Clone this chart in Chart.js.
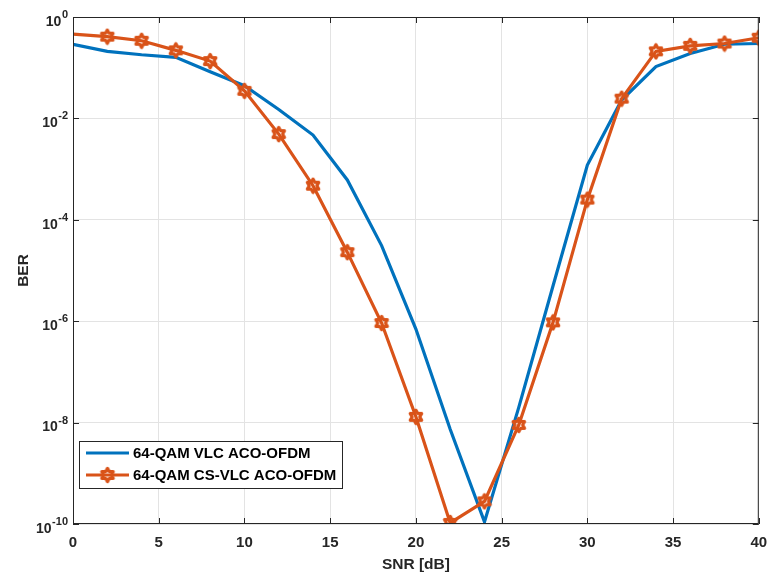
<!DOCTYPE html>
<html>
<head>
<meta charset="utf-8">
<script src="https://cdn.jsdelivr.net/npm/chart.js@4"></script>
<style>
  html, body { margin: 0; padding: 0; background: #fff; }
  #wrap { width: 769px; height: 574px; }
</style>
</head>
<body>
<div id="wrap"><canvas id="berChart" width="769" height="574"></canvas></div>
<script>
// SNR axis (dB)
const snr = [0, 2, 4, 6, 8, 10, 12, 14, 16, 18, 20, 22, 24, 26, 28, 30, 32, 34, 36, 38, 40];

// BER, 64-QAM VLC ACO-OFDM
const berVlc = [0.29, 0.21, 0.18, 0.16, 0.083, 0.044, 0.015, 0.0047, 6.1e-4, 3.1e-5, 7e-7,
  7.4e-9, 1.1e-10, 2e-8, 5e-6, 1.2e-3, 0.023, 0.105, 0.19, 0.29, 0.30];

// BER, 64-QAM CS-VLC ACO-OFDM
const berCsVlc = [0.46, 0.41, 0.34, 0.22, 0.135, 0.035, 0.0049, 4.7e-4, 2.3e-5, 9.2e-7, 1.3e-8,
  1.05e-10, 2.8e-10, 9e-9, 9.5e-7, 2.5e-4, 0.0245, 0.21, 0.27, 0.30, 0.39];

const seriesNames = ['64-QAM VLC ACO-OFDM', '64-QAM CS-VLC ACO-OFDM'];
const xTicks = [0, 5, 10, 15, 20, 25, 30, 35, 40];
const yExponents = [0, -2, -4, -6, -8, -10];

const blue = '#0072BD';
const orange = '#D95319';
const axisColor = '#262626';
const font = 'Arial, "Liberation Sans", Helvetica, sans-serif';

// hexagram marker
function makeHexagram(color) {
  const c = document.createElement('canvas');
  c.width = 18; c.height = 18;
  const g = c.getContext('2d');
  const cx = 9, cy = 9, R = 6.6, r = 3.8;
  g.beginPath();
  for (let i = 0; i < 12; i++) {
    const a = -Math.PI / 2 + i * Math.PI / 6;
    const rad = i % 2 === 0 ? R : r;
    const px = cx + rad * Math.cos(a), py = cy + rad * Math.sin(a);
    if (i === 0) g.moveTo(px, py); else g.lineTo(px, py);
  }
  g.closePath();
  g.lineWidth = 3.2;
  g.lineJoin = 'round';
  g.strokeStyle = color;
  g.stroke();
  return c;
}
const hexMarker = makeHexagram(orange);

// box, inward ticks, 10^n labels and legend drawn like matlab
const matlabAxes = {
  id: 'matlabAxes',
  afterDatasetsDraw(chart) {
    const { ctx, chartArea: a, scales } = chart;
    ctx.save();
    ctx.strokeStyle = axisColor;
    ctx.lineWidth = 1;
    ctx.strokeRect(a.left + 0.5, a.top + 0.5, a.right - a.left - 1, a.bottom - a.top - 1);
    ctx.beginPath();
    xTicks.forEach(v => {
      const px = Math.round(scales.x.getPixelForValue(v)) + 0.5;
      ctx.moveTo(px, a.bottom); ctx.lineTo(px, a.bottom - 6);
      ctx.moveTo(px, a.top); ctx.lineTo(px, a.top + 6);
    });
    yExponents.forEach(e => {
      const py = Math.round(scales.y.getPixelForValue(Math.pow(10, e))) + 0.5;
      ctx.moveTo(a.left, py); ctx.lineTo(a.left + 6, py);
      ctx.moveTo(a.right, py); ctx.lineTo(a.right - 6, py);
    });
    ctx.stroke();

    // y tick labels with superscript exponent
    ctx.fillStyle = axisColor;
    ctx.textBaseline = 'middle';
    ctx.textAlign = 'left';
    yExponents.forEach(e => {
      const py = scales.y.getPixelForValue(Math.pow(10, e));
      const ex = String(e);
      ctx.font = 'bold 11px ' + font;
      const ew = ctx.measureText(ex).width;
      ctx.font = 'bold 14px ' + font;
      const bw = ctx.measureText('10').width;
      const x0 = 68 - ew - bw - 0.5;
      ctx.fillText('10', x0, py + 5);
      ctx.font = 'bold 11px ' + font;
      ctx.fillText(ex, x0 + bw + 0.5, py - 2);
    });

    // legend
    const bx = 79.5, by = 441.5, bw = 263, bh = 47;
    ctx.fillStyle = '#fff';
    ctx.fillRect(bx, by, bw, bh);
    ctx.strokeStyle = axisColor;
    ctx.strokeRect(bx, by, bw, bh);
    const rows = [453, 475];
    const cols = [blue, orange];
    ctx.font = 'bold 15px ' + font;
    ctx.textBaseline = 'middle';
    rows.forEach((y, i) => {
      ctx.strokeStyle = cols[i];
      ctx.lineWidth = 3;
      ctx.beginPath();
      ctx.moveTo(86, y); ctx.lineTo(129, y);
      ctx.stroke();
      if (i === 1) ctx.drawImage(hexMarker, 107.5 - 9, y - 9);
      ctx.fillStyle = '#000';
      ctx.fillText(seriesNames[i], 133, y + 1);
    });
    ctx.restore();
  }
};

const chart = new Chart(document.getElementById('berChart'), {
  type: 'line',
  data: {
    datasets: [
      {
        label: seriesNames[0],
        data: snr.map((x, i) => ({ x: x, y: berVlc[i] })),
        borderColor: blue,
        borderWidth: 3.2,
        pointRadius: 0,
        tension: 0,
        order: 1
      },
      {
        label: seriesNames[1],
        data: snr.map((x, i) => ({ x: x, y: berCsVlc[i] })),
        borderColor: orange,
        backgroundColor: orange,
        borderWidth: 3.2,
        pointStyle: ctx => ctx.dataIndex === 0 ? false : hexMarker,
        pointRadius: 7,
        tension: 0,
        order: 0
      }
    ]
  },
  options: {
    responsive: false,
    animation: false,
    layout: { padding: { left: 0, right: 7, top: 17, bottom: 0 } },
    plugins: {
      legend: { display: false },
      tooltip: { enabled: false }
    },
    scales: {
      x: {
        type: 'linear',
        min: 0,
        max: 40,
        afterBuildTicks: s => { s.ticks = xTicks.map(v => ({ value: v })); },
        afterFit: s => { s.height = 50; s.paddingLeft = 0; s.paddingRight = 0; },
        grid: { color: '#e3e3e3', drawTicks: false },
        border: { display: false },
        ticks: {
          padding: 10,
          color: axisColor,
          font: { family: font, size: 15, weight: 'bold' },
          maxRotation: 0
        },
        title: {
          display: true,
          text: 'SNR [dB]',
          color: axisColor,
          font: { family: font, size: 15.5, weight: 'bold' },
          padding: { top: 0, bottom: 0 }
        }
      },
      y: {
        type: 'logarithmic',
        min: 1e-10,
        max: 1,
        afterBuildTicks: s => { s.ticks = yExponents.map(e => ({ value: Math.pow(10, e) })); },
        afterFit: s => { s.width = 73; s.paddingTop = 0; s.paddingBottom = 0; },
        grid: { color: '#e3e3e3', drawTicks: false },
        border: { display: false },
        ticks: {
          padding: 5,
          callback: () => ''
        },
        title: {
          display: true,
          text: 'BER',
          color: axisColor,
          font: { family: font, size: 15.5, weight: 'bold' },
          padding: { top: 14, bottom: 0 }
        }
      }
    }
  },
  plugins: [matlabAxes]
});

// nudge plot area to match the reference frame
const target = { left: 73, right: 762, top: 17, bottom: 524 };
const pad = chart.options.layout.padding;
const ca = chart.chartArea;
pad.right += Math.round(ca.right - target.right);
pad.top += Math.round(target.top - ca.top);
chart.update();
</script>
</body>
</html>
